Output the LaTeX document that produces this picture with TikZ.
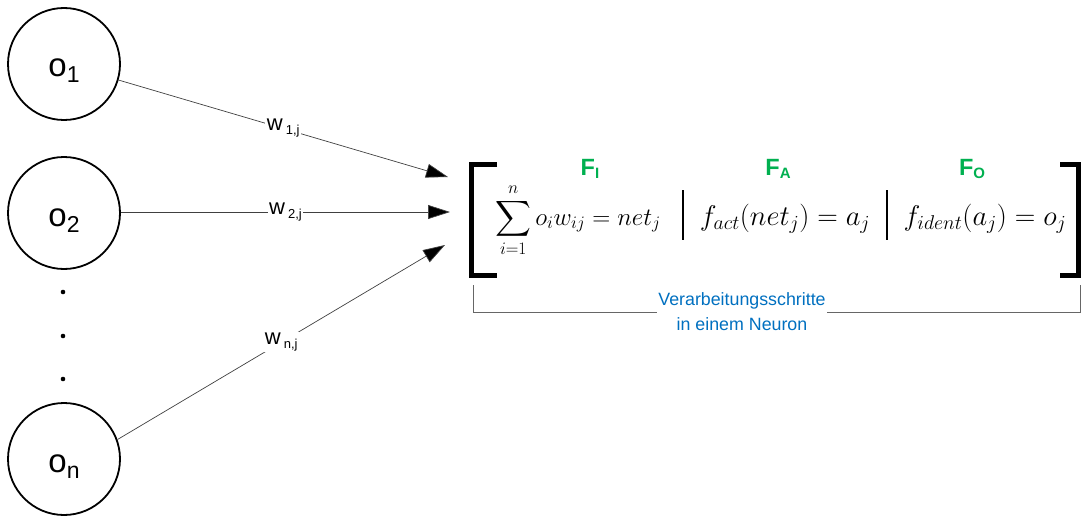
\RequirePackage{fix-cm}
\documentclass[tikz,border=0pt]{standalone}
\usepackage{amsmath}
\usepackage[no-math]{fontspec}
\newfontfamily\arialfont{Liberation Sans}
\usetikzlibrary{arrows.meta}
\definecolor{fGreen}{RGB}{0,176,80}
\definecolor{stepBlue}{RGB}{0,112,192}
\newcommand{\nnOut}[1]{\fontsize{33}{33}\selectfont o\raisebox{-6pt}{\fontsize{23}{23}\selectfont #1}}
\newcommand{\nnW}[1]{w\hspace{3pt}\raisebox{-4pt}{\fontsize{13}{13}\selectfont #1}}
\newcommand{\nnF}[1]{F\raisebox{-4pt}{\fontsize{15}{15}\selectfont #1}}
\begin{document}
\begin{tikzpicture}[x=1pt,y=-1pt]
\tikzset{
    nnNeuron/.style={circle,draw=black,line width=1.8pt,minimum size=112pt,inner sep=0pt,text height=26pt,text depth=0pt,font=\arialfont},
    nnWeight/.style={fill=white,inner xsep=1.5pt,inner ysep=1pt,font=\arialfont\fontsize{22}{22}\selectfont},
    nnEdge/.style={draw=black!75,line width=0.7pt,-{Triangle[length=22pt,width=14pt,fill=black]}},
    nnFunc/.style={anchor=base,inner sep=0pt,font=\fontsize{28.5}{32}\selectfont},
    nnHead/.style={anchor=base,inner sep=0pt,text=fGreen,font=\arialfont\bfseries\fontsize{23.5}{24}\selectfont},
    nnBracket/.style={line width=5pt,miter limit=10},
    nnSteps/.style={fill=white,align=center,inner xsep=1pt,inner ysep=0pt,text=stepBlue,font=\arialfont\fontsize{17.8}{25}\selectfont},
}
\useasboundingbox (0,0) rectangle (1081,516);

% input neurons
\node[nnNeuron] (o1) at (64,64) {\nnOut{1}};
\node[nnNeuron] (o2) at (64,213) {\nnOut{2}};
\node[nnNeuron] (on) at (64,459) {\nnOut{n}};
\foreach \y in {292,336,379} {
    \fill (63,\y) circle (2.3);
}

% weighted connections
\coordinate (t1) at (448,177);
\coordinate (t2) at (450,212);
\coordinate (tn) at (445,245);
\draw[nnEdge] (o1) -- node[nnWeight] (w1) {\nnW{1,j}} (t1);
\draw[nnEdge] (o2.east |- t2) -- node[nnWeight] (w2) {\nnW{2,j}} (t2);
\draw[nnEdge] (on.20) -- node[nnWeight] (wn) {\nnW{n,j}} (tn);

% brackets
\draw[nnBracket] (497,164) -- (471.5,164) -- (471.5,275) -- (497,275);
\draw[nnBracket] (1060,164) -- (1078.5,164) -- (1078.5,275) -- (1060,275);

% processing steps
\node[nnHead] (fi) at (590,175) {\nnF{I}};
\node[nnHead] (fa) at (778,175) {\nnF{A}};
\node[nnHead] (fo) at (972,175) {\nnF{O}};
\node[nnFunc,font=\fontsize{25}{30}\selectfont] (netj) at (578,225) {$\displaystyle\sum_{i=1}^{n} o_i w_{ij} = net_j$};
\node[nnFunc] (actj) at (785,225) {$f_{act}(net_j) = a_j$};
\node[nnFunc] (outj) at (985,225) {$f_{ident}(a_j) = o_j$};
\draw[line width=2pt] (683,190) -- (683,240);
\draw[line width=2pt] (887,190) -- (887,240);

% lower bracket
\draw[draw=black!60,line width=1pt] (473,285) -- (473,312) -- (1080,312) -- (1080,285);
\node[nnSteps] (steps) at (742,312) {Verarbeitungsschritte\\in einem Neuron};
\end{tikzpicture}
\end{document}
